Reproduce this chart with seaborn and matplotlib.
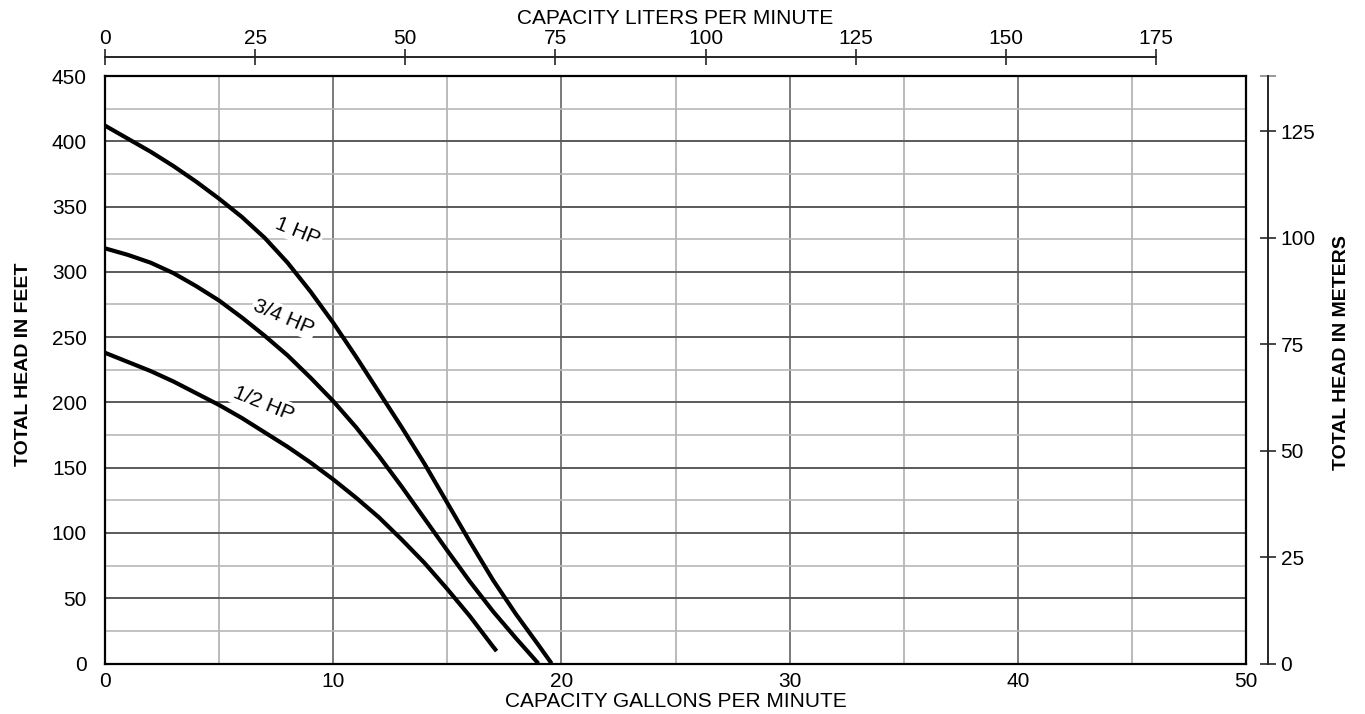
import pandas as pd
import matplotlib.pyplot as plt
import seaborn as sns

# Pump curves (capacity in GPM, head in feet)
hp1_gpm = [0, 1, 2, 3, 4, 5, 6, 7, 8, 9, 10, 11, 12, 13, 14, 15, 16, 17, 18, 19, 19.57]
hp1_head = [412, 402, 392, 381, 369, 356, 342, 326, 307, 285, 261, 235, 208, 181, 153, 123, 93, 64, 38, 14, 0]

hp34_gpm = [0, 1, 2, 3, 4, 5, 6, 7, 8, 9, 10, 11, 12, 13, 14, 15, 16, 17, 18, 18.99]
hp34_head = [318, 313, 307, 299, 289, 278, 265, 251, 236, 219, 201, 181, 159, 135.5, 111, 86.5, 62.5, 40, 19.5, 0]

hp12_gpm = [0, 1, 2, 3, 4, 5, 6, 7, 8, 9, 10, 11, 12, 13, 14, 15, 16, 17, 17.16]
hp12_head = [238, 231, 224, 216, 207, 198, 188, 177, 166, 154, 141, 127, 112, 95, 77, 57, 36, 13, 9.5]

curve_names = ["1 HP", "3/4 HP", "1/2 HP"]
# label anchor (gpm, ft) and rotation for each curve
label_gpm = [8.46, 7.84, 6.97]
label_head = [331, 265, 199]
label_rot = [-22, -23, -22]

liters_ticks = [0, 25, 50, 75, 100, 125, 150, 175]
meters_ticks = [0, 25, 50, 75, 100, 125]

L_PER_GAL = 3.8
FT_PER_M = 3.26

df = pd.concat([
    pd.DataFrame({"gpm": hp1_gpm, "head": hp1_head, "pump": "1 HP"}),
    pd.DataFrame({"gpm": hp34_gpm, "head": hp34_head, "pump": "3/4 HP"}),
    pd.DataFrame({"gpm": hp12_gpm, "head": hp12_head, "pump": "1/2 HP"}),
])

sns.set_style("white")
plt.rcParams["font.family"] = ["Liberation Sans", "DejaVu Sans"]

fig = plt.figure(figsize=(13.65, 7.14), dpi=100)
ax = fig.add_axes([105 / 1365, 1 - 663.5 / 714, 1141 / 1365, 587.5 / 714])

sns.lineplot(data=df, x="gpm", y="head", hue="pump",
             palette={n: "black" for n in curve_names},
             linewidth=3, legend=False, ax=ax, zorder=3,
             solid_capstyle="butt", solid_joinstyle="round")

ax.set_xlim(0, 50)
ax.set_ylim(0, 450)
ax.set_xticks(range(0, 51, 10))
ax.set_xticks(range(5, 50, 10), minor=True)
ax.set_yticks(range(0, 451, 50))
ax.set_yticks(range(25, 450, 50), minor=True)
ax.set_axisbelow(True)
ax.grid(which="major", axis="x", color="#707070", linewidth=1.3)
ax.grid(which="minor", axis="x", color="#a8a8a8", linewidth=1.1)
ax.grid(which="major", axis="y", color="#5a5a5a", linewidth=1.4)
ax.grid(which="minor", axis="y", color="#b8b8b8", linewidth=1.2)
ax.tick_params(axis="both", which="both", length=0, labelsize=15, labelcolor="black")
ax.tick_params(axis="y", pad=13)
ax.tick_params(axis="x", pad=6)
for sp in ax.spines.values():
    sp.set_color("black")
    sp.set_linewidth(1.6)

ax.set_xlabel("CAPACITY GALLONS PER MINUTE", fontsize=15, color="black")
ax.xaxis.set_label_coords(0.5, -0.049)
ax.set_ylabel("TOTAL HEAD IN FEET", fontsize=14, fontweight="bold", color="black")
ax.yaxis.set_label_coords(-0.064, 0.51)

# curve labels with white boxes that cut the grid
for name, gx, hy, rot in zip(curve_names, label_gpm, label_head, label_rot):
    ax.text(gx, hy, name, fontsize=15, rotation=rot, ha="center", va="center",
            rotation_mode="anchor", zorder=2, color="black",
            bbox=dict(facecolor="white", edgecolor="none", pad=1.5))

# top axis: liters per minute
top = ax.secondary_xaxis(1.0329, functions=(lambda g: g * L_PER_GAL,
                                             lambda l: l / L_PER_GAL))
top.set_xticks(liters_ticks)
top.spines["top"].set_bounds(0, 175)
top.spines["top"].set_linewidth(1.4)
top.tick_params(direction="inout", length=12, width=1.2, labelsize=15,
                labelcolor="black", pad=0.5)
top.set_xlabel("CAPACITY LITERS PER MINUTE", fontsize=15, color="black")
top.xaxis.set_label_coords(0.5, 1.0885, transform=ax.transAxes)

# right axis: meters
right = ax.secondary_yaxis(1 + 22 / 1141, functions=(lambda f: f / FT_PER_M,
                                                     lambda m: m * FT_PER_M))
right.set_yticks(meters_ticks)
right.set_yticks([450 / FT_PER_M], minor=True)
right.spines["right"].set_linewidth(1.4)
right.tick_params(direction="inout", length=12, width=1.2, labelsize=15,
                  labelcolor="black", pad=3)
right.tick_params(which="minor", direction="inout", length=12, width=1.2, color="#888888")
right.set_ylabel("TOTAL HEAD IN METERS", fontsize=14, fontweight="bold", color="black")
right.yaxis.set_label_coords(1.0762, 0.53, transform=ax.transAxes)

fig.savefig("out.png", dpi=100)
